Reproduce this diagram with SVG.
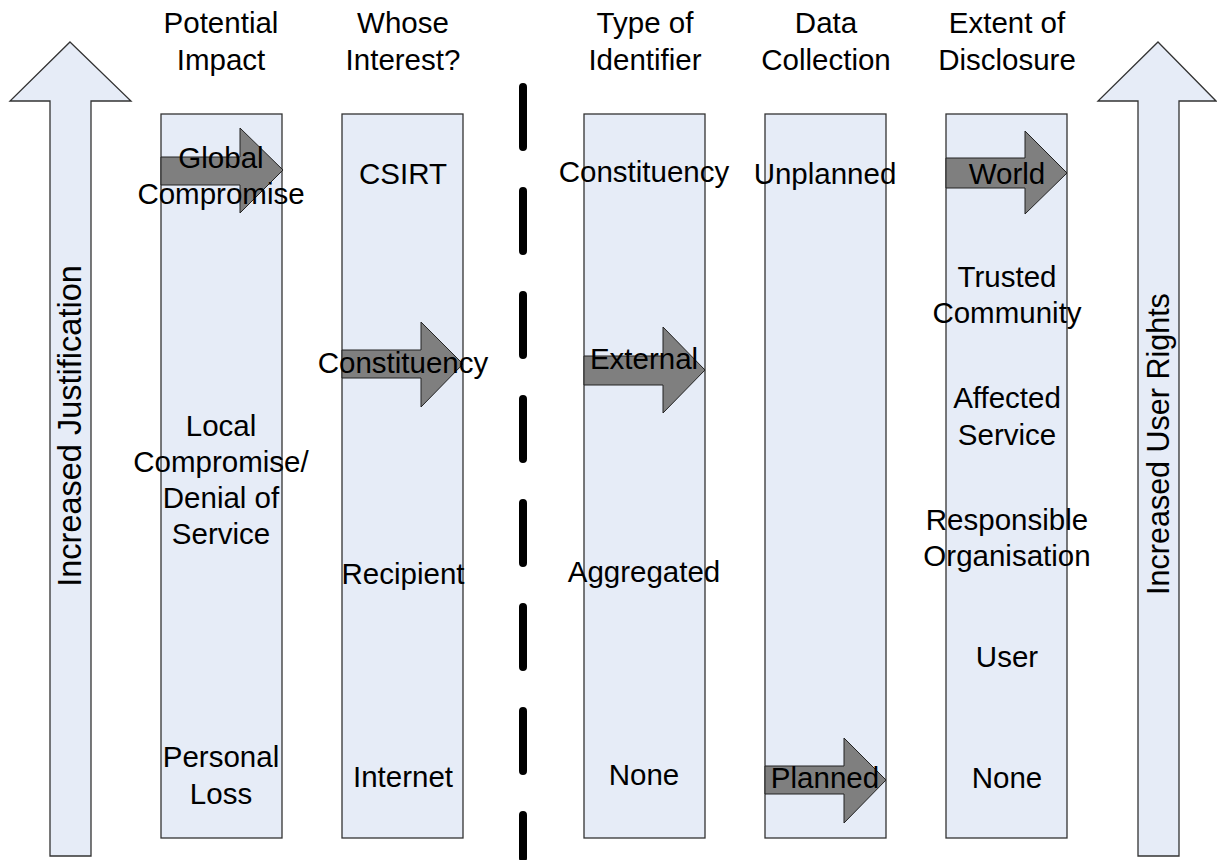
<svg xmlns="http://www.w3.org/2000/svg" width="1217" height="860" viewBox="0 0 1217 860">
<style>
.col{fill:#E6ECF7;stroke:#333;stroke-width:1.3}
.big{fill:#E6ECF7;stroke:#333;stroke-width:1.3;stroke-linejoin:miter}
.ga{fill:#7F7F7F;stroke:#222;stroke-width:1}
text{font-family:"Liberation Sans",Arial,sans-serif;font-size:29.5px;fill:#000;text-anchor:middle}
.dash{stroke:#000;stroke-width:8;stroke-linecap:round;stroke-dasharray:60 44;fill:none}
</style>
<rect width="1217" height="860" fill="#fff"/>
<g id="left-arrow">
<polygon class="big" points="70,42 131,101 91,101 91,856 50,856 50,101 10,101"/>
<text transform="translate(81,426) rotate(-90)" style="font-size:32.5px">Increased Justification</text>
</g>
<g id="right-arrow">
<polygon class="big" points="1158,42 1216,101 1179,101 1179,856 1138,856 1138,101 1098,101"/>
<text transform="translate(1169,444) rotate(-90)" style="font-size:30.5px">Increased User Rights</text>
</g>
<g id="headers">
<text x="221" y="33">Potential</text><text x="221" y="70">Impact</text>
<text x="403" y="33">Whose</text><text x="403" y="70">Interest?</text>
<text x="645" y="33">Type of</text><text x="645" y="70">Identifier</text>
<text x="826" y="33">Data</text><text x="826" y="70">Collection</text>
<text x="1007" y="33">Extent of</text><text x="1007" y="70">Disclosure</text>
</g>
<g id="divider">
<line class="dash" x1="523" y1="87" x2="523" y2="858"/>
</g>
<g id="col-impact">
<rect class="col" x="161" y="114" width="121" height="724"/>
<polygon class="ga" points="161,157 240,157 240,128 283,170 240,213 240,185 161,185"/>
<text x="221" y="168">Global</text>
<text x="221" y="204">Compromise</text>
<text x="221" y="436">Local</text>
<text x="221" y="472">Compromise/</text>
<text x="221" y="508">Denial of</text>
<text x="221" y="544">Service</text>
<text x="221" y="767">Personal</text>
<text x="221" y="804">Loss</text>
</g>
<g id="col-interest">
<rect class="col" x="342" y="114" width="121" height="724"/>
<polygon class="ga" points="342,350 421,350 421,322 463,364 421,407 421,378 342,378"/>
<text x="403" y="184">CSIRT</text>
<text x="403" y="373">Constituency</text>
<text x="403" y="584">Recipient</text>
<text x="403" y="787">Internet</text>
</g>
<g id="col-identifier">
<rect class="col" x="584" y="114" width="121" height="724"/>
<polygon class="ga" points="584,356 663,356 663,327 705,370 663,413 663,385 584,385"/>
<text x="644" y="182">Constituency</text>
<text x="644" y="369">External</text>
<text x="644" y="582">Aggregated</text>
<text x="644" y="785">None</text>
</g>
<g id="col-collection">
<rect class="col" x="765" y="114" width="121" height="724"/>
<polygon class="ga" points="765,766 844,766 844,738 886,780 844,823 844,794 765,794"/>
<text x="825" y="184">Unplanned</text>
<text x="825" y="788">Planned</text>
</g>
<g id="col-disclosure">
<rect class="col" x="946" y="114" width="121" height="724"/>
<polygon class="ga" points="946,158 1025,158 1025,131 1067,173 1025,214 1025,188 946,188"/>
<text x="1007" y="184">World</text>
<text x="1007" y="287">Trusted</text>
<text x="1007" y="323">Community</text>
<text x="1007" y="408">Affected</text>
<text x="1007" y="445">Service</text>
<text x="1007" y="530">Responsible</text>
<text x="1007" y="566">Organisation</text>
<text x="1007" y="667">User</text>
<text x="1007" y="788">None</text>
</g>
</svg>
